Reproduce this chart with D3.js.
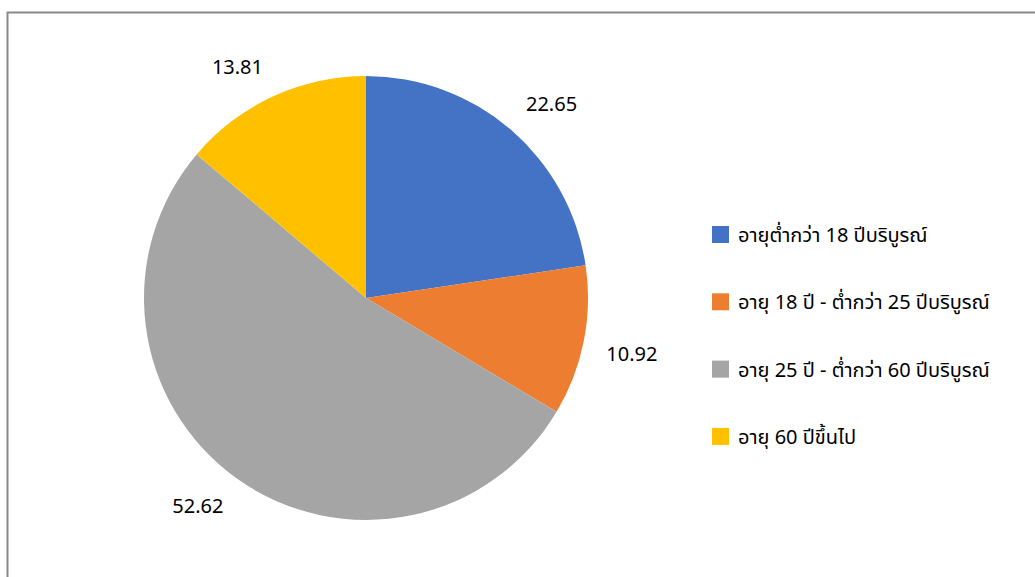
<!DOCTYPE html>
<html>
<head>
<meta charset="utf-8">
<script src="https://cdn.jsdelivr.net/npm/d3@7"></script>
<style>
  body { margin: 0; background: #fff; }
  text { font-family: "Noto Sans", "Noto Sans Thai", "DejaVu Sans", sans-serif; fill: #000; }
</style>
</head>
<body>
<div id="chart"></div>
<script>
var svgWidth = 1035;
var svgHeight = 577;

var categories = [
  "อายุต่ำกว่า 18 ปีบริบูรณ์",
  "อายุ 18 ปี - ต่ำกว่า 25 ปีบริบูรณ์",
  "อายุ 25 ปี - ต่ำกว่า 60 ปีบริบูรณ์",
  "อายุ 60 ปีขึ้นไป"
];
var values = [22.65, 10.92, 52.62, 13.81];
var colors = ["#4472c4", "#ed7d31", "#a5a5a5", "#ffc000"];

var svg = d3.select("#chart")
  .append("svg")
  .attr("width", svgWidth)
  .attr("height", svgHeight);

// chart frame (right and bottom edges run off the picture)
svg.append("rect")
  .attr("x", 7.5)
  .attr("y", 12.5)
  .attr("width", 1100)
  .attr("height", 700)
  .attr("fill", "none")
  .attr("stroke", "#898989")
  .attr("stroke-width", 2);

var cx = 366, cy = 298, radius = 222;

var pieGroup = svg.append("g")
  .attr("transform", `translate(${cx}, ${cy})`);

var pie = d3.pie().sort(null).value(d => d);
var arcs = pie(values);

var arc = d3.arc().innerRadius(0).outerRadius(radius);

pieGroup.selectAll("path")
  .data(arcs)
  .enter()
  .append("path")
  .attr("d", arc)
  .attr("fill", (d, i) => colors[i]);

// outside-end labels: nearest corner of the label box sits just outside the rim
var labelR = radius + 23;
var labelH = 17;
pieGroup.selectAll("text.lbl")
  .data(arcs)
  .enter()
  .append("text")
  .attr("class", "lbl")
  .attr("text-anchor", "middle")
  .attr("dy", "0.35em")
  .attr("font-size", "20px")
  .text(d => d.data.toFixed(2))
  .attr("transform", function(d) {
    var a = (d.startAngle + d.endAngle) / 2;
    var w = this.getComputedTextLength();
    var sx = Math.sin(a), sy = -Math.cos(a);
    var x = sx * labelR + Math.sign(sx) * w / 2;
    var y = sy * labelR + Math.sign(sy) * labelH / 2;
    return `translate(${x}, ${y})`;
  });

// legend
var legend = svg.append("g")
  .attr("transform", "translate(712, 226)");

var rows = legend.selectAll("g")
  .data(categories)
  .enter()
  .append("g")
  .attr("transform", (d, i) => `translate(0, ${i * 67.3})`);

rows.append("rect")
  .attr("width", 17)
  .attr("height", 17)
  .attr("fill", (d, i) => colors[i]);

rows.append("text")
  .attr("x", 26)
  .attr("y", 9)
  .attr("dy", "0.35em")
  .attr("font-size", "20px")
  .text(d => d);
</script>
</body>
</html>
